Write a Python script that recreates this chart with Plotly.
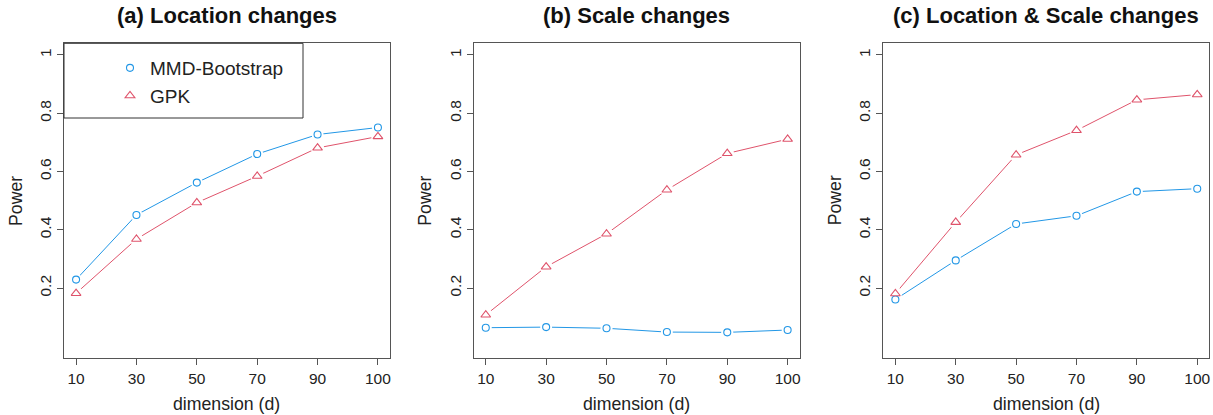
import plotly.graph_objects as go

# ---- data ----
dims = ["10", "30", "50", "70", "90", "100"]
titles = ["(a) Location changes", "(b) Scale changes", "(c) Location & Scale changes"]
series_names = ["MMD-Bootstrap", "GPK"]
mmd_a = [0.229, 0.451, 0.562, 0.660, 0.727, 0.751]
gpk_a = [0.182, 0.368, 0.493, 0.584, 0.681, 0.720]
mmd_b = [0.064, 0.066, 0.062, 0.049, 0.048, 0.056]
gpk_b = [0.108, 0.273, 0.386, 0.537, 0.662, 0.711]
mmd_c = [0.161, 0.295, 0.420, 0.448, 0.531, 0.541]
gpk_c = [0.181, 0.426, 0.657, 0.741, 0.846, 0.864]
y_ticks = [0.2, 0.4, 0.6, 0.8, 1.0]
y_tick_text = ["0.2", "0.4", "0.6", "0.8", "1"]

W, H = 1213, 415
BLUE = "#2297E6"
RED = "#DF536B"
FONT = "Liberation Sans, Arial, Helvetica, sans-serif"

panels = [(mmd_a, gpk_a), (mmd_b, gpk_b), (mmd_c, gpk_c)]
left_px = [64, 473.7, 883.3]
plot_w = 326
top_px, bot_px = 43.3, 358

fig = go.Figure()
for i, (mmd, gpk) in enumerate(panels):
    xa = "x" if i == 0 else f"x{i+1}"
    ya = "y" if i == 0 else f"y{i+1}"
    specs = [(mmd, BLUE, "circle", 7, series_names[0]),
             (gpk, RED, "triangle-up", 8.5, series_names[1])]
    for vals, col, sym, sz, name in specs:
        fig.add_trace(go.Scatter(x=dims, y=vals, mode="lines", xaxis=xa, yaxis=ya,
                                 line=dict(color=col, width=1), showlegend=False,
                                 hoverinfo="skip"))
    # white halos to leave small gaps between lines and symbols (R type="b")
    for vals, col, sym, sz, name in specs:
        fig.add_trace(go.Scatter(x=dims, y=vals, mode="markers", xaxis=xa, yaxis=ya,
                                 showlegend=False, hoverinfo="skip",
                                 marker=dict(symbol="circle", size=sz + 5, color="white",
                                             line=dict(width=0))))
    for vals, col, sym, sz, name in specs:
        fig.add_trace(go.Scatter(x=dims, y=vals, mode="markers", xaxis=xa, yaxis=ya,
                                 name=name, showlegend=(i == 0),
                                 marker=dict(symbol=sym, size=sz, color="white",
                                             line=dict(color=col, width=1.1))))

layout = dict(width=W, height=H, margin=dict(l=0, r=0, t=0, b=0),
              paper_bgcolor="white", plot_bgcolor="white",
              font=dict(family=FONT, color="#222", size=15),
              legend=dict(x=(110) / W, y=1 - 49 / H, xanchor="left", yanchor="top",
                          bgcolor="rgba(0,0,0,0)", borderwidth=0,
                          font=dict(size=19, family=FONT, color="#222"),
                          tracegroupgap=0))
annotations = []
shapes = []
for i in range(3):
    sfx = "" if i == 0 else str(i + 1)
    l = left_px[i]
    r = l + plot_w
    layout["xaxis" + sfx] = dict(domain=[l / W, r / W], type="category",
                                 range=[-0.2, 5.2], showline=True, mirror=True,
                                 linecolor="#555", linewidth=1, ticks="outside",
                                 ticklen=6, tickcolor="#555", showgrid=False,
                                 zeroline=False, anchor="y" + sfx,
                                 tickfont=dict(size=15.5, color="#222"),
                                 fixedrange=True)
    layout["yaxis" + sfx] = dict(domain=[(H - bot_px) / H, (H - top_px) / H],
                                 range=[-0.04, 1.04], tickvals=y_ticks,
                                 ticktext=y_tick_text, tickangle=-90,
                                 showline=True, mirror=True, linecolor="#555",
                                 linewidth=1, ticks="outside", ticklen=6,
                                 tickcolor="#555", showgrid=False, zeroline=False,
                                 anchor="x" + sfx, tickfont=dict(size=15.5, color="#222"),
                                 fixedrange=True)
    cx = (l + r) / 2
    annotations.append(dict(text=f"<b>{titles[i]}</b>", x=cx / W, y=1 - 16 / H,
                            xref="paper", yref="paper", showarrow=False,
                            xanchor="center", yanchor="middle",
                            font=dict(size=22, family=FONT, color="#111")))
    annotations.append(dict(text="dimension (d)", x=cx / W, y=1 - 404 / H,
                            xref="paper", yref="paper", showarrow=False,
                            xanchor="center", yanchor="middle",
                            font=dict(size=17.7, family=FONT, color="#222")))
    annotations.append(dict(text="Power", x=(l - 48.7) / W, y=1 - 200.7 / H,
                            xref="paper", yref="paper", showarrow=False,
                            textangle=-90, xanchor="center", yanchor="middle",
                            font=dict(size=17.7, family=FONT, color="#222")))

# legend frame (panel a)
shapes.append(dict(type="rect", xref="paper", yref="paper",
                   x0=64 / W, x1=303 / W, y0=1 - 118 / H, y1=1 - 43.3 / H,
                   line=dict(color="#333", width=1), fillcolor="rgba(0,0,0,0)"))
layout["annotations"] = annotations
layout["shapes"] = shapes
fig.update_layout(**layout)

fig.write_html("out.html", config={"displayModeBar": False},
               post_script="document.body.style.margin='0';document.body.style.overflow='hidden';")
